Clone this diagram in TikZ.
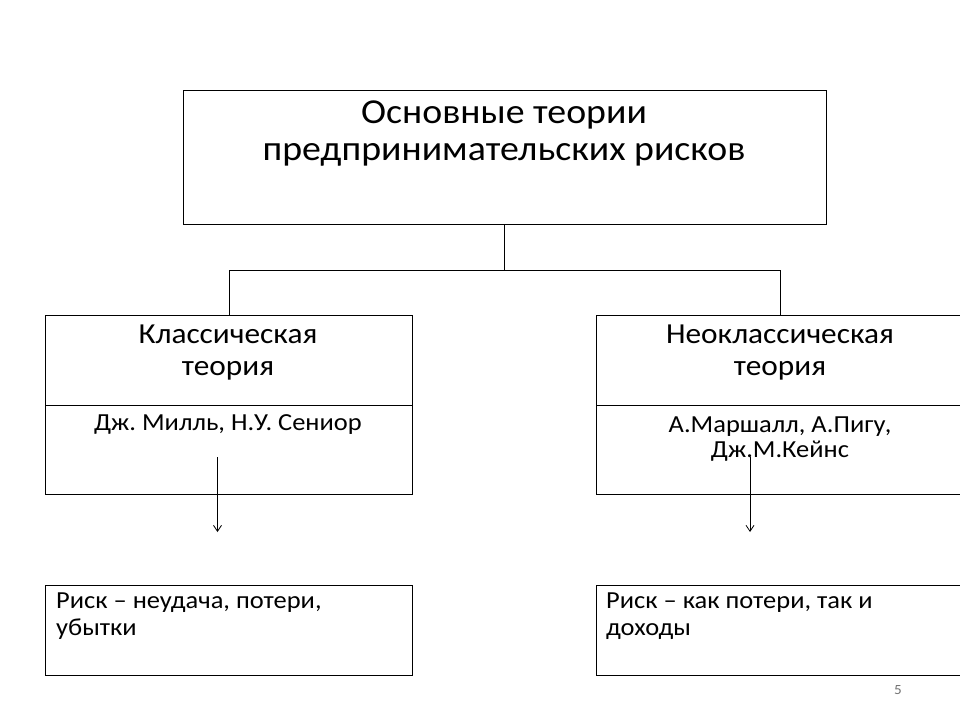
\documentclass[tikz,border=0pt]{standalone}
\usepackage{fontspec}
\setmainfont{Carlito}[FakeStretch=1.08]
\usetikzlibrary{arrows.meta}
\frenchspacing
\begin{document}
\begin{tikzpicture}[x=1pt,y=-1pt,
  box/.style={draw=black,line width=1.3pt,rectangle,inner sep=0pt,anchor=north west},
  conn/.style={draw=black,line width=1pt},
  arr/.style={draw=black,line width=0.8pt,-{Straight Barb[length=6pt,width=8pt]}},
  ttl/.style={anchor=base,inner sep=0pt,font=\fontsize{35}{38}\selectfont},
  sub/.style={anchor=base,inner sep=0pt,font=\fontsize{29}{32}\selectfont},
  auth/.style={anchor=base,inner sep=0pt,font=\fontsize{24.5}{27}\selectfont},
  risk/.style={anchor=base west,inner sep=0pt,font=\fontsize{24.5}{27}\selectfont}]
\useasboundingbox (0,0) rectangle (960,720);
\clip (0,0) rectangle (960,720);
\fill[white] (0,0) rectangle (960,720);
% boxes
\node[box,minimum width=643pt,minimum height=134pt] (top) at (183,90) {};
\node[box,minimum width=367pt,minimum height=90pt] (lhead) at (45,315) {};
\node[box,minimum width=367pt,minimum height=89pt] (lbody) at (45,405) {};
\node[box,minimum width=380pt,minimum height=90pt] (rhead) at (596,315) {};
\node[box,minimum width=380pt,minimum height=89pt] (rbody) at (596,405) {};
\node[box,minimum width=367pt,minimum height=90pt] (lrisk) at (45,585) {};
\node[box,minimum width=380pt,minimum height=90pt] (rrisk) at (596,585) {};
% texts
\node[ttl] (t1) at (504,123) {Основные теории};
\node[ttl] (t2) at (504,160) {предпринимательских рисков};
\node[sub] (l1) at (228,343) {Классическая};
\node[sub] (l2) at (228,375) {теория};
\node[auth] (l3) at (228,430) {Дж. Милль, Н.У. Сениор};
\node[sub] (r1) at (780,343) {Неоклассическая};
\node[sub] (r2) at (780,375) {теория};
\node[auth] (r3) at (780,432) {А.Маршалл, А.Пигу,};
\node[auth] (r4) at (780,457) {Дж.М.Кейнс};
\node[risk] (lr1) at (56,608) {Риск – неудача, потери,};
\node[risk] (lr2) at (56,635) {убытки};
\node[risk] (rr1) at (606,608) {Риск – как потери, так и};
\node[risk] (rr2) at (606,635) {доходы};
\node[anchor=base,inner sep=0pt,font=\fontsize{14}{16}\selectfont,text=black!55] (pg) at (898,694) {5};
% connectors
\coordinate (jt) at (504,270);
\coordinate (jl) at (229,270);
\coordinate (jr) at (780,270);
\draw[conn] (top.south -| jt) -- (jt);
\draw[conn] (lhead.north -| jl) -- (jl) -- (jr) -- (rhead.north -| jr);
\coordinate (la0) at (217.5,457);
\coordinate (la1) at (217.5,532);
\coordinate (ra0) at (750,457);
\coordinate (ra1) at (750,532);
\draw[arr] (la0) -- (la1);
\draw[arr] (ra0) -- (ra1);
\end{tikzpicture}
\end{document}
